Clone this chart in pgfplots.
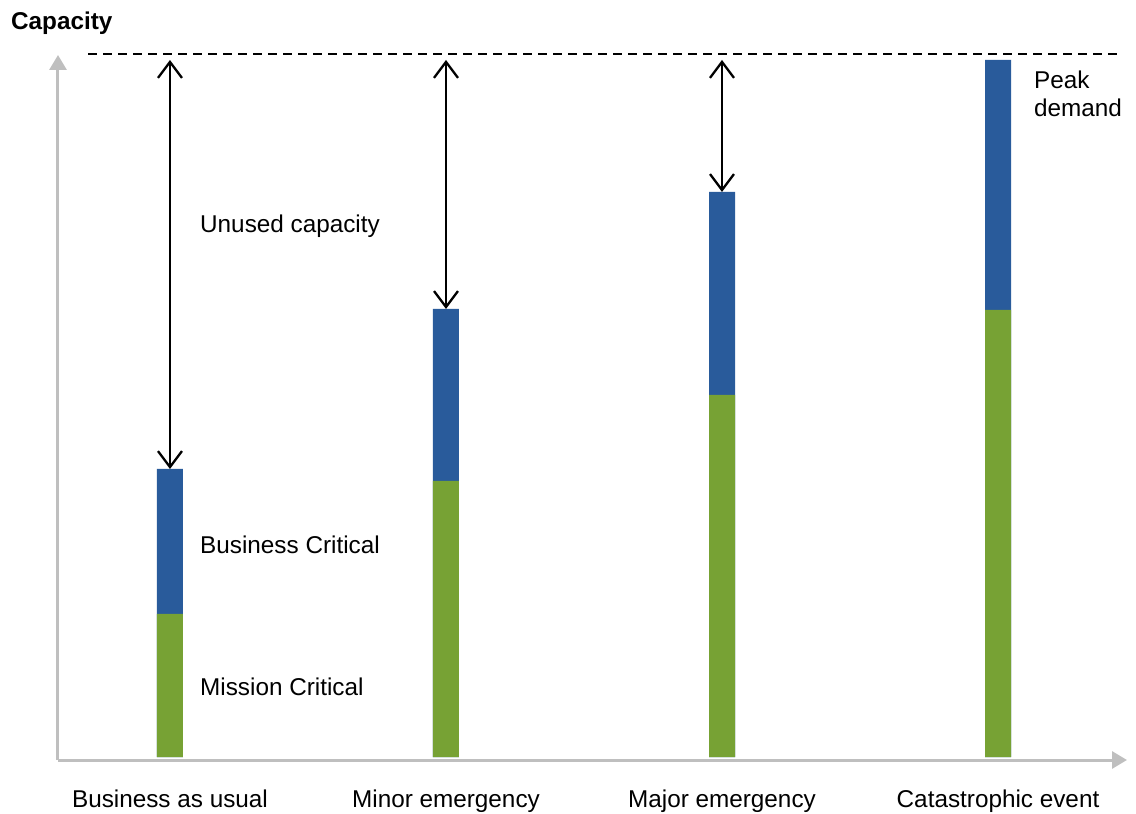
\documentclass[border=0pt]{standalone}
\usepackage{fontspec}
\setmainfont{Liberation Sans}
\usepackage{pgfplots}
\pgfplotsset{compat=1.18}
\usetikzlibrary{arrows.meta}
\definecolor{bcblue}{RGB}{41,91,155}
\definecolor{mcgreen}{RGB}{119,162,52}
\definecolor{axgray}{RGB}{191,191,191}
\begin{document}
\begin{tikzpicture}
\begin{axis}[
  scale only axis, width=1069pt, height=705pt,
  xmin=-0.4058, xmax=3.4674, ymin=-3, ymax=702,
  axis lines=left,
  axis line style={draw=axgray, line width=3pt, -{Triangle[length=15pt,width=17pt]}},
  xtick=\empty, ytick=\empty, clip=false,
]
\path (axis cs:-0.6159,-56) rectangle (axis cs:3.5,757);
\addplot[ybar, bar width=26pt, bar shift=0pt, fill=bcblue, draw=none] coordinates {(0,288) (1,448) (2,565) (3,697)};
\addplot[ybar, bar width=26pt, bar shift=0pt, fill=mcgreen, draw=none] coordinates {(0,143) (1,276) (2,362) (3,447)};
\addplot[black, line width=2.3pt, dash pattern=on 9pt off 6pt] coordinates {(-0.297,703) (3.442,703)};
\addplot[black, line width=2.3pt, {Straight Barb[length=16pt,width=24pt]}-{Straight Barb[length=16pt,width=24pt]}] coordinates {(0,697) (0,288)};
\addplot[black, line width=2.3pt, {Straight Barb[length=16pt,width=24pt]}-{Straight Barb[length=16pt,width=24pt]}] coordinates {(1,697) (1,448)};
\addplot[black, line width=2.3pt, {Straight Barb[length=16pt,width=24pt]}-{Straight Barb[length=16pt,width=24pt]}] coordinates {(2,697) (2,565)};
\begin{scope}[every node/.style={font=\fontsize{24.3}{28}\selectfont, inner sep=0pt}]
\node[anchor=base west] at (axis cs:-0.5761,727) {\textbf{Capacity}};
\node[anchor=base west] at (axis cs:0.1087,524) {Unused capacity};
\node[anchor=base west] at (axis cs:0.1087,203) {Business Critical};
\node[anchor=base west] at (axis cs:0.1087,62) {Mission Critical};
\node[anchor=base west] at (axis cs:3.1304,668) {Peak};
\node[anchor=base west] at (axis cs:3.1304,640) {demand};
\node[anchor=base] at (axis cs:0,-50) {Business as usual};
\node[anchor=base] at (axis cs:1,-50) {Minor emergency};
\node[anchor=base] at (axis cs:2,-50) {Major emergency};
\node[anchor=base] at (axis cs:3,-50) {Catastrophic event};
\end{scope}
\end{axis}
\end{tikzpicture}
\end{document}
